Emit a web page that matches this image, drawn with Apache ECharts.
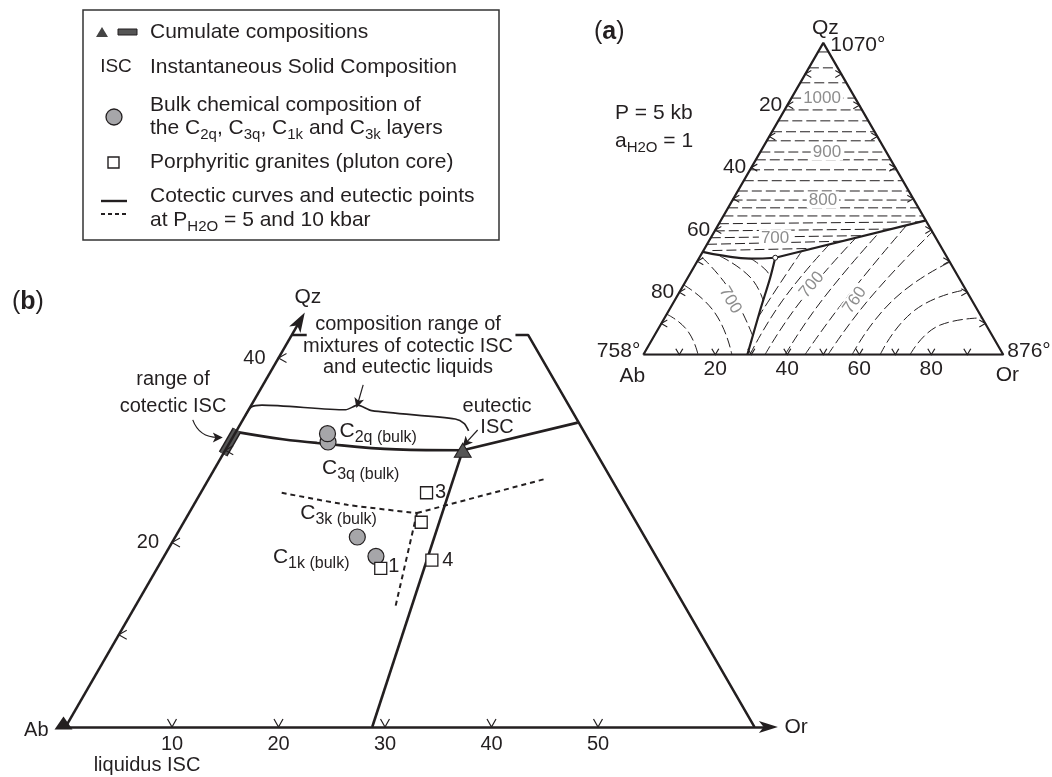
<!DOCTYPE html>
<html>
<head>
<meta charset="utf-8">
<title>Qz-Ab-Or</title>
<script src="https://cdn.jsdelivr.net/npm/echarts@6/dist/echarts.min.js"></script>
<style>
  html, body { margin: 0; padding: 0; background: #fff; }
  #container { width: 1052px; height: 777px; }
</style>
</head>
<body>
<div id="container"></div>
<script>
// every composition is ternary [Qz, Or] in %, Ab = 100 - Qz - Or

// (a) liquidus of the Qz-Ab-Or system, P = 5 kb
const aAbLabels = [20, 40, 60, 80];          // left edge (Ab %)
const aTicks = [10, 20, 30, 40, 50, 60, 70, 80, 90];
const aCotLeft = [[33, 0], [31.75, 6.3], [30.8, 14.3], [31.1, 21.1]];
const aCotRight = [[31.1, 21.1], [43, 56.8]];
const aCotDown = [[31.1, 21.1], [24.7, 22.9], [14.4, 25.3], [0, 28.9]];
const aTernaryPoint = [31.1, 21.1];
// isotherms in the quartz field (Qz level, edge to edge)
const aQzIso = [97.1, 92, 87.2, 82.3, 78.5, 75, 71.5, 68.6, 65, 62.5, 59.3, 55.8, 52.5, 49.6, 47.1, 44.5];
// lower quartz-field isotherms, cut by the cotectic
const aQzIsoCut = [
  [[42, 0], [42.6, 55.8]],
  [[39.7, 0], [40.3, 48.8]],
  [[37.5, 0], [38.2, 42.5]],
  [[35.4, 0], [36.4, 37.1]],
  [[33.4, 2.5], [34.1, 30.2]]
];
// isotherms in the feldspar (Ab) field
const aAbIso = [
  [[13, 0], [7.9, 8.2], [0, 15.2]],
  [[22.4, 0], [13.4, 13.2], [0, 24.6]],
  [[31.3, 0.6], [20.7, 13.7], [6, 27.4]],
  [[31.6, 5.5], [24.9, 17.2], [17.5, 24.5]],
  [[31, 14.1], [27.5, 20], [24.9, 22.9]]
];
// isotherms in the alkali feldspar (Or) field
const aOrIso = [
  [[11.8, 25.9], [22, 26.5], [33.1, 27.4]],
  [[0, 29.6], [17.5, 30], [35.3, 34]],
  [[0, 33.8], [16.9, 35.1], [37.4, 40.3]],
  [[0, 39.4], [17.5, 40.9], [39.4, 46]],
  [[0, 44.9], [17.5, 47.2], [41.5, 52.4]],
  [[0, 51.3], [18.2, 53.9], [39.4, 60.6]],
  [[0, 58], [17.5, 60.6], [29.7, 70.3]],
  [[0, 65.8], [14.3, 68.3], [20.8, 79.2]],
  [[0, 74.1], [9.5, 77.7], [11.8, 88.2]]
];
const aIsoText = ['1000', '900', '800', '700', '700', '700', '760'];
const aIsoPos = [[82.3, 8.5], [65, 18.5], [49.6, 25.1], [37.4, 17.9], [17.5, 15.4], [22.4, 35.6], [17.5, 50]];
const aIsoRotate = [0, 0, 0, 0, -60, 50, 55];

// (b) enlarged Ab corner
const bQzLabels = [20, 40];
const bQzTicks = [10, 20, 30, 40];
const bOrTicks = [10, 20, 30, 40, 50];
const bQzAxis = [[0, 0], [44, 0]];
const bFrameLeft = [[42.5, 0], [42.5, 1.4]];                  // stub left of the caption
const bFrameRight = [[42.5, 21], [42.5, 22.2], [0, 64.7]];     // stub right of the caption and side
const bCotLeft = [[32, 0], [31.2, 4.8], [30.8, 8.2], [30.1, 16], [30, 22.3]];
const bCotRight = [[30, 22.3], [33, 31.6]];
const bCotDown = [[30, 22.3], [0, 28.8]];
const bDashLeft = [[25.4, 7.6], [24.1, 14.4], [23.2, 21.4]];
const bDashRight = [[23.2, 21.4], [26.9, 31.6]];
const bDashDown = [[23.2, 21.4], [12.9, 24.5]];
const bEutecticISC = [30, 22.3];
const bCotecticISC = [[29.6, 0], [32.2, 0]];
const bBulkNames = ['3q', '2q', '3k', '1k'];
const bBulk = [[30.9, 9.2], [31.8, 8.7], [20.6, 17.1], [18.5, 19.9]];
const bGraniteNames = ['1', '', '3', '4'];
const bGranite = [[17.2, 21], [22.2, 22.3], [25.4, 21.2], [18.1, 25.35]];
const bBrace = [[33.8, 0], [34.7, 0.1], [34.9, 1], [34.4, 9.1], [34.9, 10], [34.3, 11.6], [33.4, 19.9], [32.9, 21], [32.1, 21.8]];
const bArrows = [
  [[37.1, 9.4], [35.1, 9.9]],     // composition range
  [[33.3, -4.7], [31.4, -1.4]],   // range of cotectic ISC
  [[32.2, 22.6], [30.8, 22.2]],   // eutectic ISC
  [[-3.4, 3.4], [-1.4, 0.8]]      // liquidus ISC
];
const bArrowBend = [0, -0.35, 0, -0.35];

const FONT = '"Liberation Sans", Arial, Helvetica, sans-serif';
const INK = '#231f20';
const GREY = '#8d8d8d';
const ARROW = 'path://M5,0L10,16L5,12L0,16Z';
const CHEVRON = 'path://M0,0L5,7L10,0';
const H = Math.sqrt(3) / 2;

// ternary [Qz, Or] -> cartesian (Ab at origin, side 100)
function tri(p) { return [p[1] + p[0] / 2, p[0] * H]; }

function poly(grid, pts, width, dash, smooth) {
  return {
    type: 'line', xAxisIndex: grid, yAxisIndex: grid, data: pts.map(tri),
    symbol: 'none', smooth: smooth || false, silent: true, z: 3,
    lineStyle: { color: INK, width: width, type: dash || 'solid', cap: 'butt', opacity: 1 }
  };
}

function ticks(grid, pts, rot, off, size) {
  return {
    type: 'scatter', xAxisIndex: grid, yAxisIndex: grid, data: pts.map(tri),
    symbol: CHEVRON, symbolSize: size, symbolRotate: rot, symbolOffset: off, silent: true, z: 4,
    itemStyle: { color: 'rgba(0,0,0,0)', borderColor: INK, borderWidth: 1.1, opacity: 1 }
  };
}

// text anchored on a composition
function textAt(p, text, align, offset, extra) {
  return {
    value: tri(p), symbolSize: 0,
    label: Object.assign({
      show: true, position: 'inside', formatter: text, align: align, verticalAlign: 'middle',
      offset: offset, color: INK, fontSize: 21, fontFamily: FONT, opacity: 1
    }, extra || {})
  };
}

function labels(grid, items) {
  return {
    type: 'scatter', xAxisIndex: grid, yAxisIndex: grid, data: items, symbol: 'circle',
    itemStyle: { color: 'rgba(0,0,0,0)', opacity: 1 }, silent: true, z: 6
  };
}

const subRich = {
  m: { fontSize: 21, fontFamily: FONT, color: INK },
  s: { fontSize: 15, fontFamily: FONT, color: INK, padding: [13, 0, 0, 0] }
};
const bulkRich = {
  m: { fontSize: 21, fontFamily: FONT, color: INK },
  s: { fontSize: 16, fontFamily: FONT, color: INK, padding: [13, 0, 0, 0] }
};

const series = [];

// ----- (a) -----
series.push(poly(0, [[0, 0], [0, 100], [100, 0], [0, 0]], 2.2));
aQzIso.forEach(q => series.push(poly(0, [[q, 0], [q, 100 - q]], 1, [10, 4])));
aQzIsoCut.forEach(l => series.push(poly(0, l, 1, [10, 4])));
aAbIso.forEach(l => series.push(poly(0, l, 1, [10, 4], 0.5)));
aOrIso.forEach(l => series.push(poly(0, l, 1, [10, 4], 0.5)));
series.push(poly(0, aCotLeft, 2.2, 'solid', 0.5));
series.push(poly(0, aCotRight, 2.2));
series.push(poly(0, aCotDown, 2.2, 'solid', 0.3));
series.push({
  type: 'scatter', xAxisIndex: 0, yAxisIndex: 0, data: [tri(aTernaryPoint)], symbol: 'circle', symbolSize: 5,
  itemStyle: { color: '#fff', borderColor: INK, borderWidth: 1, opacity: 1 }, z: 5, silent: true
});
series.push(ticks(0, aTicks.map(v => [0, v]), 0, [0, -3], [7, 6]));
series.push(ticks(0, aTicks.map(v => [v, 0]), -90, [3, 0], [7, 6]));
series.push(ticks(0, aTicks.map(v => [v, 100 - v]), 90, [-3, 0], [7, 6]));
series.push(labels(0, [
  ...aAbLabels.map(v => textAt([100 - v, 0], String(v), 'right', [-5, 0])),
  textAt([100, 0], 'Qz', 'center', [2, -15]),
  textAt([100, 0], '1070°', 'left', [7, 2]),
  textAt([0, 0], '758°', 'right', [-3, -3]),
  textAt([0, 0], 'Ab', 'center', [-11, 22]),
  textAt([0, 100], '876°', 'left', [4, -3]),
  textAt([0, 100], 'Or', 'center', [4, 21]),
  ...aIsoText.map((t, i) => textAt(aIsoPos[i], t, 'center', [0, 0], {
    color: GREY, fontSize: 17, rotate: aIsoRotate[i], backgroundColor: '#fff', padding: [0, 2]
  }))
]));

// ----- (b) -----
// frame, plus the Qz axis drawn as a mark line so its arrow head follows the edge
series.push(Object.assign(poly(1, bFrameLeft, 2.5), {
  markLine: {
    silent: true, animation: false, symbol: ['none', ARROW], symbolSize: [13, 20],
    label: { show: false }, emphasis: { disabled: true },
    lineStyle: { color: INK, width: 2.5, type: 'solid', opacity: 1 },
    data: [[{ coord: tri(bQzAxis[0]) }, { coord: tri(bQzAxis[1]) }]]
  }
}));
series.push(poly(1, bFrameRight, 2.5));
series.push(poly(1, bCotLeft, 2.6, 'solid', 0.4));
series.push(poly(1, bCotRight, 2.6));
series.push(poly(1, bCotDown, 2.6));
series.push(poly(1, bDashLeft, 2, [5, 4], 0.3));
series.push(poly(1, bDashRight, 2, [5, 4]));
series.push(poly(1, bDashDown, 2, [5, 4]));
series.push(poly(1, bBrace, 1.6, 'solid', 0.25));
series.push(poly(1, bCotecticISC, 10));
series.push(Object.assign(poly(1, bCotecticISC, 7), { lineStyle: { color: '#555', width: 7, cap: 'butt', opacity: 1 }, z: 4 }));
series.push({
  type: 'lines', coordinateSystem: 'cartesian2d', xAxisIndex: 1, yAxisIndex: 1, z: 5, silent: true,
  symbol: ['none', ARROW], symbolSize: 10,
  data: bArrows.map((a, i) => ({ coords: a.map(tri), lineStyle: { curveness: bArrowBend[i] } })),
  lineStyle: { color: INK, width: 1.2, opacity: 1 }
});
series.push(ticks(1, bOrTicks.map(v => [0, v]), 0, [0, -4], [9, 8]));
series.push(ticks(1, bQzTicks.map(v => [v, 0]), -90, [4, 0], [9, 8]));
series.push({
  type: 'scatter', xAxisIndex: 1, yAxisIndex: 1, z: 6, silent: true, symbol: 'circle', symbolSize: 16,
  itemStyle: { color: '#a6a6a9', borderColor: INK, borderWidth: 1.2, opacity: 1 },
  data: bBulk.map(tri)
});
series.push({
  type: 'scatter', xAxisIndex: 1, yAxisIndex: 1, z: 6, silent: true, symbol: 'rect', symbolSize: 12,
  itemStyle: { color: '#fff', borderColor: INK, borderWidth: 1.3, opacity: 1 },
  data: bGranite.map(tri)
});
series.push({
  type: 'scatter', xAxisIndex: 1, yAxisIndex: 1, z: 7, silent: true, symbol: 'triangle',
  itemStyle: { opacity: 1 },
  data: [
    { value: tri(bEutecticISC), symbolSize: [17, 14], itemStyle: { color: '#555', borderColor: INK, borderWidth: 1, opacity: 1 } },
    { value: tri([0, 0]), symbolSize: [18, 13], symbolOffset: [-2, -4], itemStyle: { color: INK, opacity: 1 } }
  ]
});
const bulkOffsets = [[-6, 26], [12, -3], [-57, -24], [-103, 1]];
const graniteOffsets = [[13, -2], [0, 0], [14, 0], [16, 0]];
series.push(labels(1, [
  ...bQzLabels.map(v => textAt([v, 0], String(v), 'right', [-13, 0], { fontSize: 20 })),
  textAt([44, 0], 'Qz', 'center', [8, -24], { fontSize: 21 }),
  textAt([0, 0], 'Ab', 'right', [-17, 3], { fontSize: 20 }),
  ...bBulkNames.map((n, i) => textAt(bBulk[i], '{m|C}{s|' + n + ' (bulk)}', 'left', bulkOffsets[i], { rich: bulkRich })),
  ...bGraniteNames.map((n, i) => textAt(bGranite[i], n, 'center', graniteOffsets[i], { fontSize: 20 }))
]));

// ----- legend box and free text -----
const T = (x, y, text, extra) => Object.assign({
  type: 'text', z: 50, silent: true,
  style: Object.assign({ x: x, y: y, text: text, font: '21px ' + FONT, fill: INK, verticalAlign: 'middle', align: 'left' }, extra || {})
});
const graphic = [
  { type: 'rect', z: 40, silent: true, shape: { x: 83, y: 10, width: 416, height: 230 }, style: { fill: '#fff', stroke: '#333', lineWidth: 1.5 } },
  { type: 'polygon', z: 50, silent: true, shape: { points: [[96, 37], [108, 37], [102, 27]] }, style: { fill: '#444' } },
  { type: 'rect', z: 50, silent: true, shape: { x: 118, y: 29, width: 19, height: 6 }, style: { fill: '#555', stroke: INK, lineWidth: 1 } },
  T(150, 32, 'Cumulate compositions'),
  T(116, 67, 'ISC', { font: '19px ' + FONT, align: 'center' }),
  T(150, 67, 'Instantaneous Solid Composition'),
  { type: 'circle', z: 50, silent: true, shape: { cx: 114, cy: 117, r: 8 }, style: { fill: '#a6a6a9', stroke: INK, lineWidth: 1.3 } },
  T(150, 105, 'Bulk chemical composition of'),
  T(150, 128, '{m|the C}{s|2q}{m|, C}{s|3q}{m|, C}{s|1k}{m| and C}{s|3k}{m| layers}', { rich: subRich }),
  { type: 'rect', z: 50, silent: true, shape: { x: 108, y: 157, width: 11, height: 11 }, style: { fill: '#fff', stroke: INK, lineWidth: 1.4 } },
  T(150, 162, 'Porphyritic granites (pluton core)'),
  { type: 'line', z: 50, silent: true, shape: { x1: 101, y1: 201, x2: 127, y2: 201 }, style: { stroke: INK, lineWidth: 2.4 } },
  { type: 'line', z: 50, silent: true, shape: { x1: 101, y1: 214, x2: 127, y2: 214 }, style: { stroke: INK, lineWidth: 2, lineDash: [4, 3] } },
  T(150, 196, 'Cotectic curves and eutectic points'),
  T(150, 220, '{m|at P}{s|H2O}{m| = 5 and 10 kbar}', { rich: subRich }),

  T(594, 32, '{p|(}{b|a}{p|)}', { rich: { p: { fontSize: 25, fontFamily: FONT, color: INK }, b: { fontSize: 25, fontWeight: 'bold', fontFamily: FONT, color: INK } } }),
  T(615, 113, 'P = 5 kb'),
  T(615, 141, '{m|a}{s|H2O}{m| = 1}', { rich: subRich }),

  T(12, 302, '{p|(}{b|b}{p|)}', { rich: { p: { fontSize: 25, fontFamily: FONT, color: INK }, b: { fontSize: 25, fontWeight: 'bold', fontFamily: FONT, color: INK } } }),
  T(173, 393, 'range of\ncotectic ISC', { font: '20px ' + FONT, align: 'center', lineHeight: 27 }),
  T(408, 346, 'composition range of\nmixtures of cotectic ISC\nand eutectic liquids', {
    font: '20px ' + FONT, align: 'center', lineHeight: 21.5
  }),
  T(497, 417, 'eutectic\nISC', { font: '20px ' + FONT, align: 'center', lineHeight: 21 }),
  T(147, 765, 'liquidus ISC', { font: '20px ' + FONT, align: 'center' })
];

const myChart = echarts.init(document.getElementById('container'), null, { renderer: 'canvas' });
myChart.setOption({
  animation: false,
  backgroundColor: '#fff',
  grid: [
    { left: 643.3, top: 42.9, width: 360, height: 311.8, containLabel: false, outerBoundsMode: 'none' },
    { left: 65.5, top: 301, width: 702.9, height: 426, containLabel: false, outerBoundsMode: 'none' }
  ],
  xAxis: [
    {
      gridIndex: 0, type: 'value', min: 0, max: 100, interval: 20,
      axisLine: { show: false }, axisTick: { show: false }, splitLine: { show: false },
      axisLabel: { margin: 4, fontSize: 21, color: INK, fontFamily: FONT, formatter: v => (v > 0 && v < 100 ? String(v) : '') }
    },
    {
      gridIndex: 1, type: 'value', min: 0, max: 66, interval: 10,
      axisLine: { show: true, onZero: false, lineStyle: { color: INK, width: 2.6 }, symbol: ['none', ARROW], symbolSize: [12, 19] },
      axisTick: { show: false }, splitLine: { show: false },
      axisLabel: { margin: 7, fontSize: 20, color: INK, fontFamily: FONT, formatter: v => (v >= 10 && v <= 50 ? String(v) : '') },
      name: 'Or', nameLocation: 'end', nameGap: 16,
      nameTextStyle: { fontSize: 21, color: INK, fontFamily: FONT, verticalAlign: 'middle' }
    }
  ],
  yAxis: [
    { gridIndex: 0, type: 'value', min: 0, max: 86.6025, show: false },
    { gridIndex: 1, type: 'value', min: 0, max: 40, show: false }
  ],
  graphic: graphic,
  series: series
});
</script>
</body>
</html>
